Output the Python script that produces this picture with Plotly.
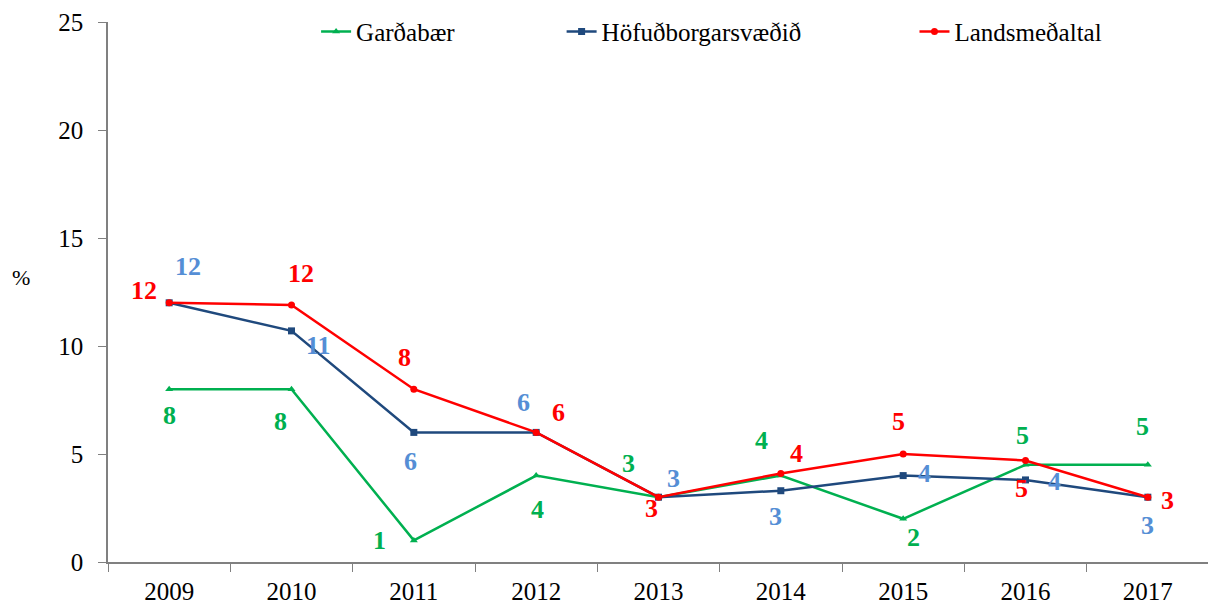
import plotly.graph_objects as go

years = ["2009", "2010", "2011", "2012", "2013", "2014", "2015", "2016", "2017"]
gardabaer = [8.0, 8.0, 1.0, 4.0, 3.0, 4.0, 2.0, 4.5, 4.5]
hofud = [12.0, 10.7, 6.0, 6.0, 3.0, 3.3, 4.0, 3.8, 3.0]
lands = [12.0, 11.9, 8.0, 6.0, 3.0, 4.1, 5.0, 4.7, 3.0]

gardabaer_labels = ["8", "8", "1", "4", "3", "4", "2", "5", "5"]
hofud_labels = ["12", "11", "6", "6", "3", "3", "4", "4", "3"]
lands_labels = ["12", "12", "8", "6", "3", "4", "5", "5", "3"]

# label offsets in pixels (dx, dy with dy positive = downward on screen)
g_off = [(0, 26), (-11, 32), (-34, 0), (1, 34), (-30, -34), (-19, -35), (10, 19), (-3, -29), (-5, -38)]
h_off = [(19, -36), (27, 15), (-3, 29), (-13, -30), (15, -19), (-5, 26), (21, -2), (29, 2), (0, 28)]
l_off = [(-25, -12), (9, -31), (-9, -32), (22, -20), (-7, 11), (16, -20), (-5, -33), (-4, 28), (20, 3)]

GREEN = "#00B050"
NAVY = "#1F497D"
RED = "#FF0000"
LBLUE = "#558ED5"
FONT = "Liberation Serif"

fig = go.Figure()
fig.add_trace(go.Scatter(x=years, y=gardabaer, name="Garðabær", mode="lines+markers",
                         line=dict(color=GREEN, width=2.5),
                         marker=dict(symbol="triangle-up", size=7, color=GREEN),
                         legend="legend", showlegend=True))
fig.add_trace(go.Scatter(x=years, y=hofud, name="Höfuðborgarsvæðið", mode="lines+markers",
                         line=dict(color=NAVY, width=2.5),
                         marker=dict(symbol="square", size=7, color=NAVY),
                         legend="legend2", showlegend=True))
fig.add_trace(go.Scatter(x=years, y=lands, name="Landsmeðaltal", mode="lines+markers",
                         line=dict(color=RED, width=2.5),
                         marker=dict(symbol="circle", size=7, color=RED),
                         legend="legend3", showlegend=True))

annots = []
for vals, labs, offs, col in [(gardabaer, gardabaer_labels, g_off, GREEN),
                              (hofud, hofud_labels, h_off, LBLUE),
                              (lands, lands_labels, l_off, RED)]:
    for i, (y, t, (dx, dy)) in enumerate(zip(vals, labs, offs)):
        annots.append(dict(x=i, y=y, text="<b>%s</b>" % t, showarrow=False,
                           xshift=dx, yshift=-dy,
                           font=dict(family=FONT, size=26, color=col)))

annots.append(dict(xref="paper", yref="paper", x=-0.079, y=0.526, text="%", showarrow=False,
                   xanchor="center", yanchor="middle",
                   font=dict(family=FONT, size=22, color="black")))

leg_common = dict(orientation="h", yanchor="middle", y=0.982, xanchor="left",
                  bgcolor="rgba(0,0,0,0)", font=dict(family=FONT, size=25, color="black"))

fig.update_layout(
    width=1216, height=604,
    margin=dict(l=100, r=15, t=14, b=50, autoexpand=False),
    paper_bgcolor="white", plot_bgcolor="white",
    showlegend=True,
    font=dict(family=FONT, size=24, color="black"),
    legend=dict(x=0.189, **leg_common),
    legend2=dict(x=0.412, **leg_common),
    legend3=dict(x=0.7325, **leg_common),
    annotations=annots,
    xaxis=dict(type="category", range=[-0.5, 8.5], showgrid=False, showline=True,
               linecolor="#808080", linewidth=1.5, automargin=False,
               ticks="outside", ticklen=8, tickcolor="#808080", tickson="boundaries",
               tickfont=dict(family=FONT, size=25), zeroline=False, tickangle=0,
               ticklabelstandoff=6),
    yaxis=dict(range=[0, 25], dtick=5, showgrid=False, showline=True, linecolor="#808080",
               linewidth=1.5, ticks="outside", ticklen=8, tickcolor="#808080", automargin=False,
               tickfont=dict(family=FONT, size=25), zeroline=False, ticklabelstandoff=10),
)

fig.write_html("out.html")
